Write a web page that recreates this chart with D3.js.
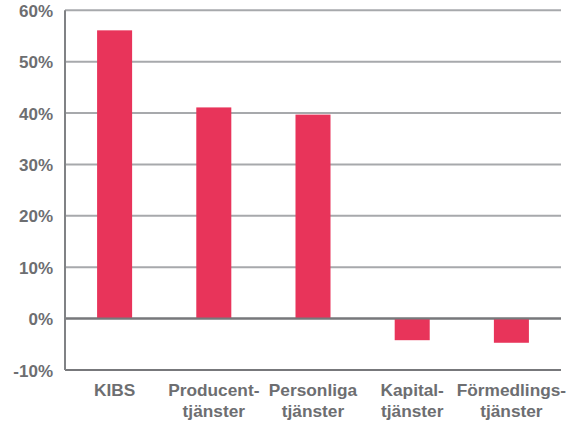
<!DOCTYPE html>
<html><head><meta charset="utf-8">
<script src="https://cdn.jsdelivr.net/npm/d3@7/dist/d3.min.js"></script>
<style>body{margin:0;background:#fff}svg{display:block}</style>
</head><body>
<svg id="c" width="575" height="422"></svg>
<script>
const categories = [["KIBS"], ["Producent-", "tjänster"], ["Personliga", "tjänster"], ["Kapital-", "tjänster"], ["Förmedlings-", "tjänster"]];
const values = [56.1, 41.1, 39.7, -4.2, -4.7];
const ticks = [-10, 0, 10, 20, 30, 40, 50, 60];

(function () {
const svg = d3.select("#c");
const mLeft = 65, mRight = 561, mTop = 10.3, mBottom = 370;
const x = d3.scaleBand().domain(d3.range(categories.length)).range([mLeft, mRight]).padding(0);
const y = d3.scaleLinear().domain([-10, 60]).range([mBottom, mTop]);
const barW = x.bandwidth() * 0.353;
const textCol = "#6d6e71";
const font = "'Liberation Sans', Arial, sans-serif";

svg.append("g").selectAll("line").data(ticks).join("line")
  .attr("x1", mLeft).attr("x2", mRight)
  .attr("y1", d => y(d)).attr("y2", d => y(d))
  .attr("stroke", d => (d === 0 || d === -10) ? "#77787b" : "#a7a9ac")
  .attr("stroke-width", 2);

svg.append("g").selectAll("rect").data(values).join("rect")
  .attr("x", (d, i) => x(i) + x.bandwidth() / 2 - barW / 2)
  .attr("width", barW)
  .attr("y", d => y(Math.max(0, d)))
  .attr("height", d => Math.abs(y(d) - y(0)))
  .attr("fill", "#e8345a");

svg.append("line").attr("x1", mLeft).attr("x2", mRight).attr("y1", y(0)).attr("y2", y(0))
  .attr("stroke", "#77787b").attr("stroke-width", 2);

svg.append("line").attr("x1", mLeft).attr("x2", mLeft).attr("y1", y(60)).attr("y2", y(-10))
  .attr("stroke", "#808285").attr("stroke-width", 2);

const yAxis = d3.axisLeft(y).tickValues(ticks).tickFormat(d => d + "%").tickSize(0).tickPadding(12);
const ga = svg.append("g").attr("transform", `translate(${mLeft},0)`).call(yAxis);
ga.select(".domain").remove();
ga.selectAll("text").attr("font-family", font).attr("font-weight", "bold").attr("font-size", 17)
  .attr("fill", textCol).attr("dy", "0.36em");

const gx = svg.append("g").selectAll("text").data(categories).join("text")
  .attr("x", (d, i) => x(i) + x.bandwidth() / 2)
  .attr("y", 396)
  .attr("text-anchor", "middle")
  .attr("font-family", font).attr("font-weight", "bold").attr("font-size", 17.3)
  .attr("fill", textCol);
gx.selectAll("tspan").data(d => d).join("tspan")
  .attr("x", function () { return d3.select(this.parentNode).attr("x"); })
  .attr("dy", (d, i) => i === 0 ? 0 : 20.5)
  .text(d => d);
})();
</script>
</body></html>
